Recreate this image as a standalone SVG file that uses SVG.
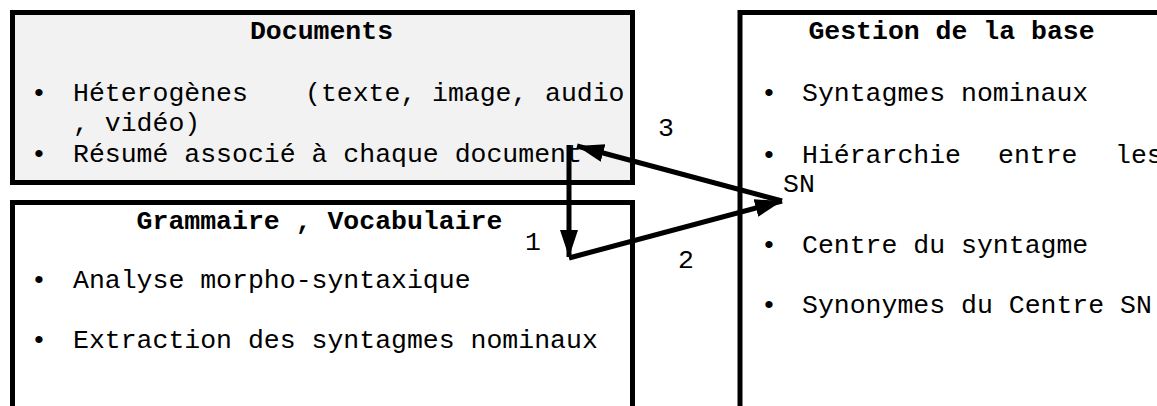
<svg xmlns="http://www.w3.org/2000/svg" width="1157" height="406" viewBox="0 0 1157 406">
<style>
.box{stroke:#000;stroke-width:5;}
.t{font-family:"Liberation Mono","Courier New",monospace;font-size:26.5px;fill:#000;}
.b{font-weight:bold;}
.c{stroke:#000;stroke-width:5;fill:none;}
</style>
<defs>
<marker id="ah" markerUnits="userSpaceOnUse" markerWidth="30" markerHeight="20" refX="27" refY="9" orient="auto">
<path d="M0,0 L27,9 L0,18 Z" fill="#000"/>
</marker>
</defs>
<rect width="1157" height="406" fill="#fff"/>
<g id="documents">
<rect class="box" x="12.5" y="12.5" width="620" height="170" fill="#f2f2f2"/>
<text class="t b" x="321.5" y="39" text-anchor="middle">Documents</text>
<text class="t" x="31" y="101">•</text>
<text class="t" y="101"><tspan x="73">Héterogènes</tspan><tspan x="305">(texte,</tspan><tspan x="432">image,</tspan><tspan x="545">audio</tspan></text>
<text class="t" x="73" y="131">, vidéo)</text>
<text class="t" x="31" y="162">•</text>
<text class="t" x="73" y="162">Résumé associé à chaque document</text>
</g>
<g id="grammaire">
<rect class="box" x="12.5" y="202.5" width="620" height="300" fill="#fff"/>
<text class="t b" x="319.5" y="229" text-anchor="middle">Grammaire , Vocabulaire</text>
<text class="t" x="31" y="288">•</text>
<text class="t" x="73" y="288">Analyse morpho-syntaxique</text>
<text class="t" x="31" y="348">•</text>
<text class="t" x="73" y="348">Extraction des syntagmes nominaux</text>
</g>
<g id="gestion">
<rect class="box" x="740" y="12.5" width="500" height="500" fill="#fff"/>
<text class="t b" x="951.5" y="39" text-anchor="middle">Gestion de la base</text>
<text class="t" x="761" y="101">•</text>
<text class="t" x="802" y="101">Syntagmes nominaux</text>
<text class="t" x="761" y="163">•</text>
<text class="t" y="163"><tspan x="802">Hiérarchie</tspan><tspan x="998">entre</tspan><tspan x="1115">les</tspan></text>
<text class="t" x="783" y="192">SN</text>
<text class="t" x="761" y="253">•</text>
<text class="t" x="802" y="253">Centre du syntagme</text>
<text class="t" x="761" y="313">•</text>
<text class="t" x="802" y="313">Synonymes du Centre SN</text>
</g>
<g id="connectors">
<path class="c" d="M569,145 L569,257" marker-end="url(#ah)"/>
<path class="c" d="M569,258 L782,201" marker-end="url(#ah)"/>
<path class="c" d="M782,201 L577,146" marker-end="url(#ah)"/>
<text class="t" x="525" y="250">1</text>
<text class="t" x="678" y="268">2</text>
<text class="t" x="658" y="136">3</text>
</g>
</svg>
